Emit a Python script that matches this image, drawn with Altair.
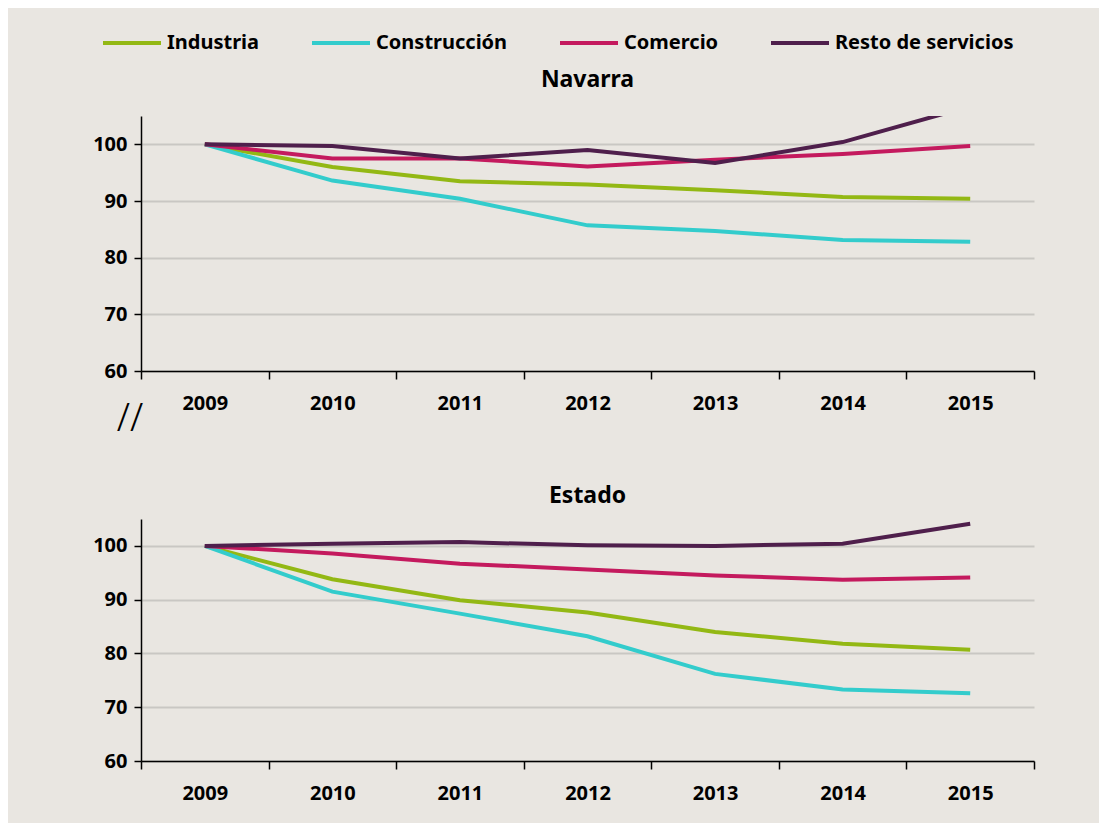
import altair as alt
import pandas as pd

years = ["2009", "2010", "2011", "2012", "2013", "2014", "2015"]
sectors = ["Industria", "Construcción", "Comercio", "Resto de servicios"]
colors = ["#93b814", "#33cccc", "#c41a5e", "#4f1f4c"]

navarra_industria = [100, 96.0, 93.5, 92.9, 91.9, 90.7, 90.4]
navarra_construccion = [100, 93.6, 90.4, 85.7, 84.7, 83.1, 82.8]
navarra_comercio = [100, 97.5, 97.5, 96.1, 97.3, 98.3, 99.7]
navarra_resto = [100, 99.7, 97.5, 99.0, 96.7, 100.4, 106.7]

estado_industria = [100, 93.8, 89.9, 87.6, 84.0, 81.8, 80.7]
estado_construccion = [100, 91.5, 87.4, 83.2, 76.2, 73.3, 72.6]
estado_comercio = [100, 98.6, 96.7, 95.6, 94.5, 93.7, 94.1]
estado_resto = [100, 100.4, 100.7, 100.1, 100.0, 100.4, 104.1]

series = {
    "Navarra": [navarra_industria, navarra_construccion, navarra_comercio, navarra_resto],
    "Estado": [estado_industria, estado_construccion, estado_comercio, estado_resto],
}

rows = []
for region, vals in series.items():
    for s, v in zip(sectors, vals):
        for y, val in zip(years, v):
            rows.append({"region": region, "sector": s, "year": y, "value": val})
df = pd.DataFrame(rows)

FONT = "Noto Sans"


def panel(region, h, offset, brk=False):
    lines = (
        alt.Chart(df)
        .transform_filter(alt.datum.region == region)
        .mark_line(strokeWidth=4, clip=True)
        .encode(
            x=alt.X(
                "year:O",
                sort=years,
                bandPosition=0.5,
                scale=alt.Scale(type="band", paddingInner=0, paddingOuter=0),
                axis=alt.Axis(
                    title=None,
                    labelAngle=0,
                    tickBand="extent",
                    grid=False,
                    tickSize=8,
                    labelPadding=14,
                ),
            ),
            y=alt.Y(
                "value:Q",
                scale=alt.Scale(domain=[60, 105], nice=False, zero=False),
                axis=alt.Axis(
                    title=None,
                    values=[60, 70, 80, 90, 100],
                    grid=True,
                    tickSize=7,
                    labelPadding=7,
                ),
            ),
            color=alt.Color(
                "sector:N",
                sort=sectors,
                scale=alt.Scale(domain=sectors, range=colors),
                legend=alt.Legend(
                    title=None,
                    orient="none",
                    legendX=-40,
                    legendY=-104,
                    direction="horizontal",
                    symbolType="stroke",
                    symbolSize=3364,
                    symbolStrokeWidth=4,
                    labelFontSize=20,
                    labelFont=FONT,
                    labelFontWeight="bold",
                    labelColor="black",
                    labelOffset=4,
                    labelLimit=0,
                    columnPadding=44,
                ),
            ),
        )
    )
    layers = [lines]
    if brk:
        mark = alt.Chart(df).transform_filter(
            (alt.datum.region == region) & (alt.datum.sector == "Industria") & (alt.datum.year == "2009")
        ).mark_text(text="//", fontSize=38, fontWeight=300, font=FONT, color="black", clip=False).encode(
            x=alt.value(-11), y=alt.value(h + 49)
        )
        layers.append(mark)
    return alt.layer(*layers).properties(
        width=893,
        height=h,
        title=alt.TitleParams(region, offset=offset, fontSize=23, font=FONT, fontWeight="bold", color="black"),
    )


chart = (
    alt.vconcat(panel("Navarra", 255, 24, brk=True), panel("Estado", 242, 11), spacing=46)
    .properties(padding={"left": 84, "top": 4, "right": 64, "bottom": 20})
    .configure(background="#e9e6e1")
    .configure_view(stroke=None)
    .configure_axis(
        domainColor="black",
        domainWidth=1.5,
        tickColor="black",
        tickWidth=1.5,
        labelFont=FONT,
        labelFontSize=20,
        labelFontWeight="bold",
        labelColor="black",
        gridColor="#c9c7c3",
        gridWidth=2,
    )
)

chart.save("out.html", embed_options={"renderer": "svg", "actions": False})
